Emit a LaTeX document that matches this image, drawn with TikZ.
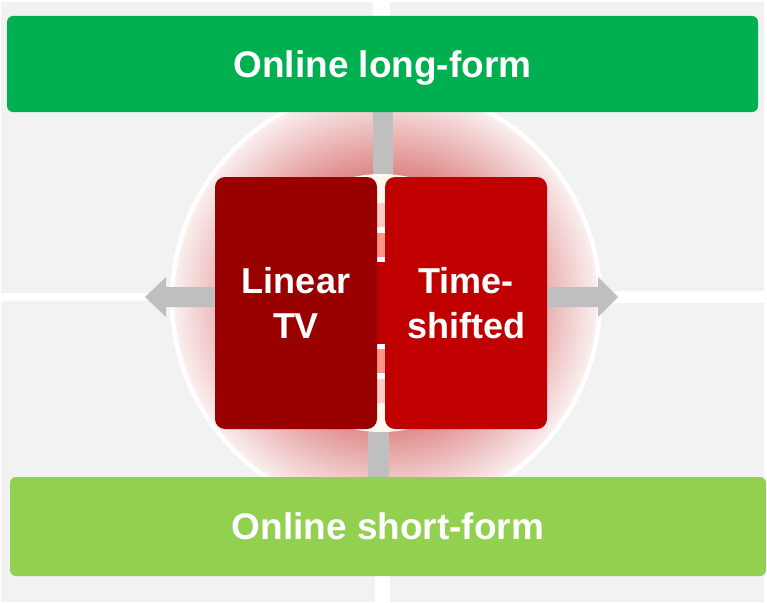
\documentclass[tikz,border=0pt]{standalone}
\usepackage{fontspec}
\setmainfont{Liberation Sans}
\definecolor{bg}{HTML}{F2F2F2}
\definecolor{topgreen}{HTML}{00B050}
\definecolor{botgreen}{HTML}{92D050}
\definecolor{darkred}{HTML}{990000}
\definecolor{midred}{HTML}{C00000}
\definecolor{arrowgray}{HTML}{BFBFBF}
\definecolor{cream}{HTML}{FFF9F0}
\definecolor{palepink}{HTML}{FFCBC4}
\definecolor{salmon}{HTML}{FF9585}
\definecolor{glowIn}{HTML}{DC7C7C}
\definecolor{glowOut}{HTML}{FBF1F1}
\tikzset{
  quad/.style={fill=bg},
  bar/.style={rectangle, rounded corners=6pt, inner sep=0pt, text=white,
    font=\fontsize{37}{44}\selectfont\bfseries},
  card/.style={rectangle, rounded corners=10pt, inner sep=0pt, text=white, align=center,
    minimum width=162pt, minimum height=252pt,
    font=\fontsize{36}{45}\selectfont\bfseries},
}
\begin{document}
\begin{tikzpicture}[x=1pt,y=-1pt]
\useasboundingbox (0,0) rectangle (767,602);
\fill[white] (0,0) rectangle (767,602);
% background quadrants
\fill[quad] (1,2) rectangle (373,293);
\fill[quad] (390,2) rectangle (764,291);
\fill[quad] (1,301) rectangle (375,602);
\fill[quad] (390,303) rectangle (764,602);
% glowing circle (stepped radial gradient)
\coordinate (c) at (386,300);
\foreach \r in {214,212,...,110} {
  \pgfmathsetmacro\p{max(0,(\r-118)/96*100)}
  \fill[glowOut!\p!glowIn] (c) circle (\r pt);
}
\draw[white, line width=4.5pt] (c) circle (214pt);
% grey arrows
\coordinate (al) at (145,297);
\coordinate (ar) at (618,297);
\fill[arrowgray] (al) -- (166,277) -- (166,287) -- (598,287) -- (598,277) -- (ar)
  -- (598,317) -- (598,307) -- (166,307) -- (166,317) -- cycle;
\fill[arrowgray] (373,100) rectangle (393,200);
\fill[arrowgray] (368,400) rectangle (389,490);
% concentric rings behind the cards
\coordinate (rc) at (381,303);
\fill[cream] (rc) circle (129pt);
\fill[palepink] (rc) circle (100pt);
\fill[white] (rc) circle (76pt);
\fill[salmon] (rc) circle (70pt);
\fill[white] (rc) circle (46pt);
\fill[midred] (rc) circle (41pt);
% cards
\node[card, fill=darkred] (lin) at (296,303) {Linear\\TV};
\node[card, fill=midred] (ts) at (466,303) {Time-\\shifted};
% bars
\node[bar, fill=topgreen, minimum width=751pt, minimum height=96pt, text depth=0pt] (long) at (382.5,64) {Online long-form};
\node[bar, fill=botgreen, minimum width=756pt, minimum height=99pt] (short) at (388,526.5) {Online short-form};
\end{tikzpicture}
\end{document}
